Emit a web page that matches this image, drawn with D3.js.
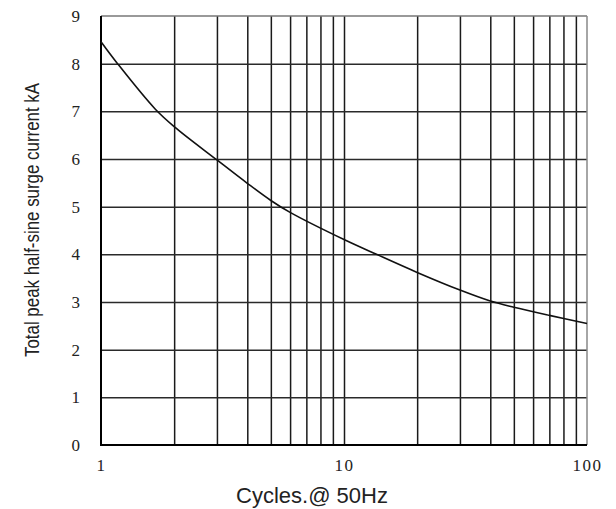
<!DOCTYPE html>
<html>
<head>
<meta charset="utf-8">
<script src="https://cdn.jsdelivr.net/npm/d3@7"></script>
<style>
  html, body { margin: 0; padding: 0; background: #fff; }
  svg { display: block; }
</style>
</head>
<body>
<svg id="chart" width="616" height="509"></svg>
<script>
// ---- data ----
const cycles = [1, 1.17, 1.67, 2, 3, 4, 5, 6, 10, 13.6, 20, 30, 40, 50, 70, 100];
const surgeKA = [8.46, 8.0, 7.05, 6.68, 5.98, 5.49, 5.13, 4.88, 4.31, 4.0, 3.62, 3.25, 3.02, 2.89, 2.72, 2.55];
const xTickLabels = [1, 10, 100];
const yTickLabels = [0, 1, 2, 3, 4, 5, 6, 7, 8, 9];
const xGridValues = [2, 3, 4, 5, 6, 7, 8, 9, 10, 20, 30, 40, 50, 60, 70, 80, 90];
const yGridValues = [1, 2, 3, 4, 5, 6, 7, 8];
const xTitle = "Cycles.@ 50Hz";
const yTitle = "Total peak half-sine surge current kA";

// ---- layout ----
const mLeft = 101, mRight = 587, mTop = 16, mBottom = 445;
const svg = d3.select("#chart");

const x = d3.scaleLog().domain([1, 100]).range([mLeft, mRight]);
const y = d3.scaleLinear().domain([0, 9]).range([mBottom, mTop]);

// vertical grid
svg.append("g")
  .attr("transform", `translate(0,${mBottom})`)
  .call(d3.axisBottom(x).tickValues(xGridValues).tickSize(-(mBottom - mTop)).tickFormat(""))
  .call(g => g.select(".domain").remove())
  .call(g => g.selectAll(".tick line").attr("stroke", "#1a1a1a").attr("stroke-width", 1.5));

// horizontal grid
svg.append("g")
  .attr("transform", `translate(${mLeft},0)`)
  .call(d3.axisLeft(y).tickValues(yGridValues).tickSize(-(mRight - mLeft)).tickFormat(""))
  .call(g => g.select(".domain").remove())
  .call(g => g.selectAll(".tick line").attr("stroke", "#2a2a2a").attr("stroke-width", 1.5));

// top & right borders (gray)
svg.append("line").attr("x1", mLeft).attr("x2", mRight).attr("y1", y(9)).attr("y2", y(9))
  .attr("stroke", "#777").attr("stroke-width", 1.5);
svg.append("line").attr("x1", x(100)).attr("x2", x(100)).attr("y1", mTop).attr("y2", mBottom)
  .attr("stroke", "#888").attr("stroke-width", 1.5);
// left & bottom axis lines (black)
svg.append("line").attr("x1", x(1)).attr("x2", x(1)).attr("y1", mTop).attr("y2", mBottom + 1)
  .attr("stroke", "#000").attr("stroke-width", 2);
svg.append("line").attr("x1", mLeft - 1).attr("x2", mRight).attr("y1", y(0)).attr("y2", y(0))
  .attr("stroke", "#000").attr("stroke-width", 2);

// y tick labels
svg.append("g")
  .attr("transform", `translate(${mLeft},0)`)
  .call(d3.axisLeft(y).tickValues(yTickLabels).tickSize(0).tickPadding(21).tickFormat(d3.format("d")))
  .call(g => g.select(".domain").remove())
  .call(g => g.selectAll("text")
    .attr("font-family", "'Liberation Serif', 'DejaVu Serif', serif")
    .attr("font-size", 17).attr("fill", "#222"));

// x tick labels
svg.append("g")
  .attr("transform", `translate(0,${mBottom})`)
  .call(d3.axisBottom(x).tickValues(xTickLabels).tickSize(0).tickPadding(14).tickFormat(d3.format("d")))
  .call(g => g.select(".domain").remove())
  .call(g => g.selectAll("text")
    .attr("font-family", "'Liberation Serif', 'DejaVu Serif', serif")
    .attr("font-size", 17).attr("letter-spacing", 1.5).attr("fill", "#222"));

// curve
const line = d3.line()
  .x((d, i) => x(cycles[i]))
  .y(d => y(d))
  .curve(d3.curveCatmullRom.alpha(0.5));
svg.append("path")
  .datum(surgeKA)
  .attr("d", line)
  .attr("fill", "none")
  .attr("stroke", "#111")
  .attr("stroke-width", 1.6);

// axis titles
svg.append("text")
  .attr("x", 312).attr("y", 503)
  .attr("text-anchor", "middle")
  .attr("font-family", "'Liberation Sans', Arial, sans-serif")
  .attr("font-size", 22).attr("fill", "#222")
  .attr("textLength", 152).attr("lengthAdjust", "spacingAndGlyphs")
  .text(xTitle);

svg.append("text")
  .attr("transform", "translate(39,220) rotate(-90)")
  .attr("text-anchor", "middle")
  .attr("font-family", "'Liberation Sans Narrow', 'Liberation Sans', Arial, sans-serif")
  .attr("font-size", 21).attr("fill", "#222")
  .attr("textLength", 274).attr("lengthAdjust", "spacingAndGlyphs")
  .text(yTitle);
</script>
</body>
</html>
